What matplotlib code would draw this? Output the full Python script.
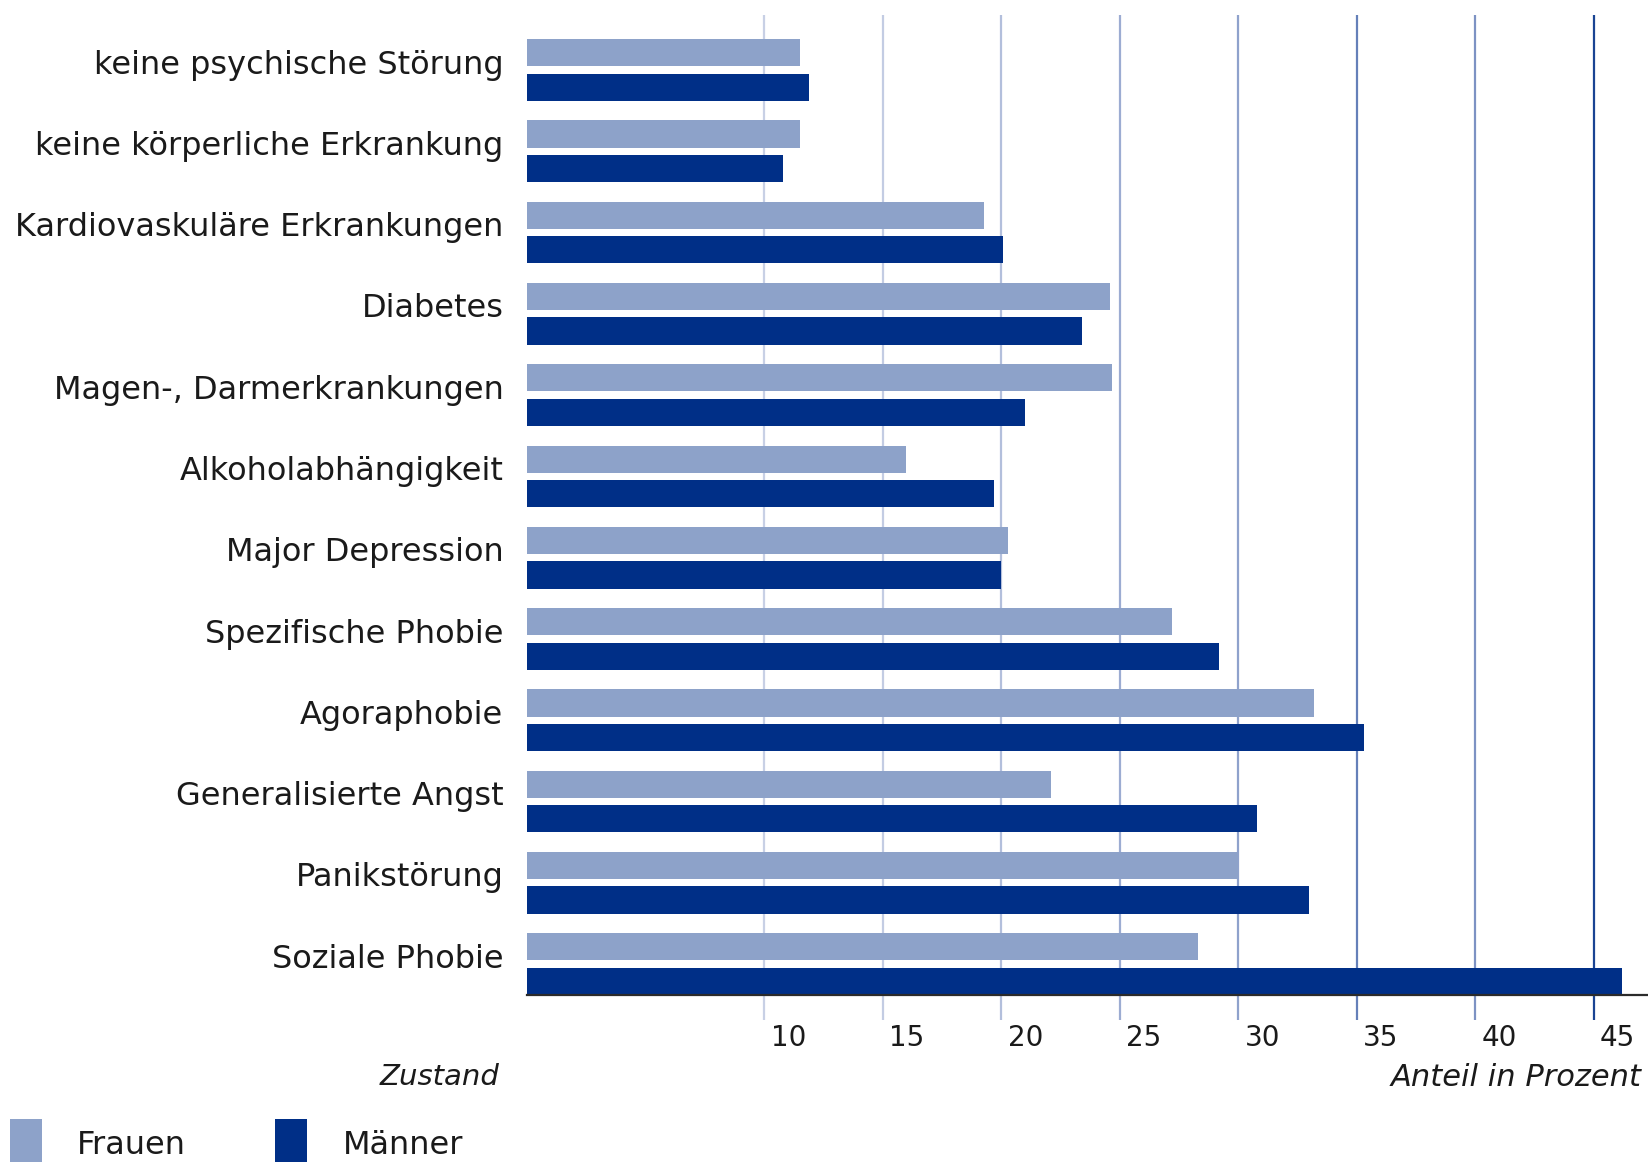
import numpy as np
import matplotlib
matplotlib.use("Agg")
import matplotlib.pyplot as plt
from matplotlib.patches import Rectangle
from matplotlib.transforms import ScaledTranslation

plt.rcParams['font.family'] = ['DejaVu Sans']

# Anteil in Prozent je Zustand, getrennt nach Geschlecht
categories = [
    "keine psychische Störung",
    "keine körperliche Erkrankung",
    "Kardiovaskuläre Erkrankungen",
    "Diabetes",
    "Magen-, Darmerkrankungen",
    "Alkoholabhängigkeit",
    "Major Depression",
    "Spezifische Phobie",
    "Agoraphobie",
    "Generalisierte Angst",
    "Panikstörung",
    "Soziale Phobie",
]
frauen = [11.5, 11.5, 19.3, 24.6, 24.7, 16.0, 20.3, 27.2, 33.2, 22.1, 30.0, 28.3]
maenner = [11.9, 10.8, 20.1, 23.4, 21.0, 19.7, 20.0, 29.2, 35.3, 30.8, 33.0, 46.2]
tick_values = [10, 15, 20, 25, 30, 35, 40, 45]
tick_labels = ["10", "15", "20", "25", "30", "35", "40", "45"]

col_frauen = "#8da2c9"
col_maenner = "#002f87"
grid_colors = ["#c8d0e5", "#c3cce3", "#b3bfdc", "#9cacd2", "#8fa2cc",
               "#6580b9", "#7d92c3", "#1a4493"]
text_col = "#1a1a1a"

W, H = 1648, 1162
fig = plt.figure(figsize=(W / 100, H / 100), dpi=100)
left_px, top_px, bottom_px = 527, 14.7, 995
ax = fig.add_axes([left_px / W, 1 - bottom_px / H, 1 - left_px / W,
                   (bottom_px - top_px) / H])

y = np.arange(len(categories))
bar_h = 0.335
off = 0.2125
y_top, y_bot = -0.68, 11.38

# vertical grid lines, continuing a little below the axis line
ax.vlines(tick_values, y_top, y_bot + 0.31, colors=grid_colors,
          linewidth=1.6, zorder=0, clip_on=False)

ax.barh(y - off, frauen, height=bar_h, color=col_frauen, zorder=2)
ax.barh(y + off, maenner, height=bar_h, color=col_maenner, zorder=2)

ax.set_xlim(0, (W - left_px) / 23.7)
ax.set_ylim(y_bot, y_top)

for side in ("top", "right", "left"):
    ax.spines[side].set_visible(False)
ax.spines["bottom"].set_color("#2b2b2b")
ax.spines["bottom"].set_linewidth(1.6)
ax.spines["bottom"].set_zorder(3)

ax.set_yticks(y + 0.045)
ax.set_yticklabels(categories, fontsize=23, color=text_col)
for lab in ax.get_yticklabels():
    lab.set_verticalalignment("baseline")
ax.tick_params(axis="y", length=0, pad=17)

ax.set_xticks(tick_values)
ax.set_xticklabels(tick_labels, fontsize=20, color=text_col)
ax.tick_params(axis="x", length=0, pad=21)
shift = ScaledTranslation(0.065, 0, fig.dpi_scale_trans)
for lab in ax.get_xticklabels():
    lab.set_horizontalalignment("left")
    lab.set_transform(lab.get_transform() + shift)

fig.text(500 / W, 1 - 1077 / H, "Zustand", fontsize=21, style="italic",
         ha="right", va="center", color=text_col)
fig.text(1642 / W, 1 - 1077 / H, "Anteil in Prozent", fontsize=22,
         style="italic", ha="right", va="center", color=text_col)

# legend
fig.add_artist(Rectangle((10 / W, 0), 32 / W, 43 / H, transform=fig.transFigure,
                         facecolor=col_frauen, edgecolor="none"))
fig.add_artist(Rectangle((275 / W, 0), 32 / W, 43 / H, transform=fig.transFigure,
                         facecolor=col_maenner, edgecolor="none"))
fig.text(77 / W, 1 / H, "Frauen", fontsize=23, ha="left", va="bottom",
         color=text_col)
fig.text(343 / W, 1 / H, "Männer", fontsize=23, ha="left", va="bottom",
         color=text_col)

fig.savefig("out.png", dpi=100)
